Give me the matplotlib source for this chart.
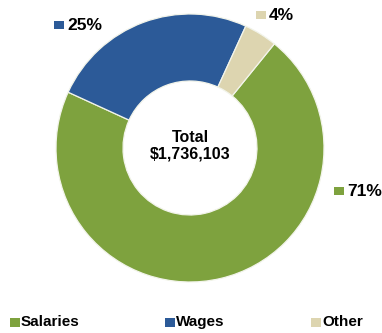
import matplotlib
matplotlib.use("Agg")
import matplotlib.pyplot as plt
from matplotlib.patches import Rectangle

# Expense breakdown
categories = ["Salaries", "Wages", "Other"]
shares = [71, 25, 4]
colors = ["#7ea23e", "#2c5a98", "#ddd5b0"]
total_label = "Total\n$1,736,103"

W, H = 382, 333
fig = plt.figure(figsize=(W / 100, H / 100), dpi=100)
ax = fig.add_axes([0, 0, 1, 1])

plt.rcParams["font.family"] = ["Liberation Sans", "DejaVu Sans"]

cx, cy, R = 190, H - 148, 134
ax.pie(
    shares,
    colors=colors,
    center=(cx, cy),
    radius=R,
    startangle=51,
    counterclock=False,
    wedgeprops=dict(width=R * 0.5, edgecolor="#f2f4ea", linewidth=0.9),
    frame=True,
)
ax.set_xlim(0, W)
ax.set_ylim(0, H)
ax.set_aspect("equal")
ax.axis("off")

ax.text(cx, cy + 2, total_label, ha="center", va="center",
        fontsize=11.5, fontweight="bold", linespacing=1.15)

# percentage callouts: (category index, square x, text centre y)
callouts = [(1, 54, H - 25), (2, 256, H - 15), (0, 334, H - 191)]
for idx, x, y in callouts:
    ax.add_patch(Rectangle((x, y - 4), 10, 8, facecolor=colors[idx], edgecolor="none"))
    ax.text(x + 13, y, f"{shares[idx]}%", ha="left", va="center",
            fontsize=12.5, fontweight="bold")

# legend row
legend_x = [10, 165, 311]
ly = H - 322
for name, col, x in zip(categories, colors, legend_x):
    ax.add_patch(Rectangle((x, ly - 4.5), 10, 9, facecolor=col, edgecolor="none"))
    ax.text(x + 11, ly, name, ha="left", va="center", fontsize=11, fontweight="bold")

fig.savefig("out.png", dpi=100)
